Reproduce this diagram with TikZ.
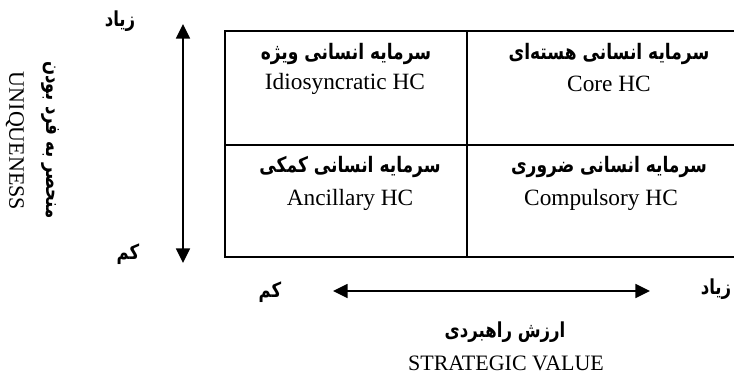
\documentclass[tikz,border=0pt]{standalone}
\usepackage{fontspec}
\usepackage{graphicx}
\setmainfont{Liberation Serif}
\newfontfamily\fafont[Script=Arabic]{DejaVu Sans}
\TeXXeTstate=1
\usetikzlibrary{arrows.meta}
\newcommand{\fatxt}[1]{\scalebox{0.8}[1]{\fafont\bfseries\beginR #1\endR}}
\begin{document}
\begin{tikzpicture}[x=0.75pt,y=-0.75pt,
  gridline/.style={line width=2pt},
  axisline/.style={line width=1.2pt,{Triangle[length=11pt,width=10.5pt]}-{Triangle[length=11pt,width=10.5pt]}},
  fatitle/.style={inner sep=0pt,font=\fontsize{16}{18}\selectfont},
  entitle/.style={inner sep=0pt,font=\fontsize{17.5}{20}\selectfont},
  falabel/.style={inner sep=0pt,font=\fontsize{15.5}{18}\selectfont},
  enlabel/.style={inner sep=0pt,font=\fontsize{16.5}{19}\selectfont}]
\useasboundingbox (0,0) rectangle (734,379);
\clip (0,0) rectangle (734,379);
% grid
\draw[gridline] (225,31) rectangle (467,145);
\draw[gridline] (467,31) rectangle (760,145);
\draw[gridline] (225,145) rectangle (467,257);
\draw[gridline] (467,145) rectangle (760,257);
% cell texts
\node[fatitle] (tlfa) at (346,54) {\fatxt{سرمایه انسانی ویژه}};
\node[entitle] (tlen) at (345,84) {Idiosyncratic HC};
\node[fatitle] (trfa) at (609,54) {\fatxt{سرمایه انسانی هسته‌ای}};
\node[entitle] (tren) at (609,84) {Core HC};
\node[fatitle] (blfa) at (350,167) {\fatxt{سرمایه انسانی کمکی}};
\node[entitle] (blen) at (350,200) {Ancillary HC};
\node[fatitle] (brfa) at (609,167) {\fatxt{سرمایه انسانی ضروری}};
\node[entitle] (bren) at (601,200) {Compulsory HC};
% vertical axis
\coordinate (vtop) at (183,24);
\coordinate (vbot) at (183,263);
\draw[axisline] (vtop) -- (vbot);
\node[falabel] (vhigh) at (120,21) {\fatxt{زیاد}};
\node[falabel] (vlow) at (128,254) {\fatxt{کم}};
\node[falabel,rotate=-90] (vfa) at (50,140) {\fatxt{منحصر به فرد بودن}};
\node[enlabel,rotate=-90] (ven) at (15,141) {UNIQUENESS};
% horizontal axis
\coordinate (hleft) at (333,291);
\coordinate (hright) at (650,291);
\draw[axisline] (hleft) -- (hright);
\node[falabel] (hlow) at (270,292) {\fatxt{کم}};
\node[falabel] (hhigh) at (716,289) {\fatxt{زیاد}};
\node[falabel] (hfa) at (505,332) {\fatxt{ارزش راهبردی}};
\node[enlabel] (hen) at (506,363) {STRATEGIC VALUE};
\end{tikzpicture}
\end{document}
